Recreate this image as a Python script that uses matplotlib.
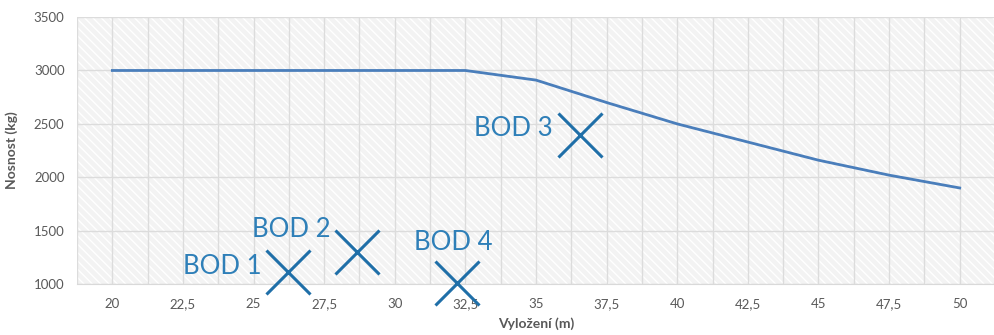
import numpy as np
import matplotlib.pyplot as plt
from matplotlib.patches import Rectangle

# data - vylozeni vs nosnost
vylozeni = [20, 22.5, 25, 27.5, 30, 32.5, 35, 37.5, 40, 42.5, 45, 47.5, 50]
nosnost = [3000, 3000, 3000, 3000, 3000, 3000, 2910, 2700, 2500, 2330, 2160, 2020, 1900]
tick_labels = ["20", "22,5", "25", "27,5", "30", "32,5", "35", "37,5", "40", "42,5", "45", "47,5", "50"]

# body (krizky) a popisky
bod_names = ["BOD 1", "BOD 2", "BOD 3", "BOD 4"]
bod_x = [26.22, 28.66, 36.55, 32.2]
bod_y = [1110, 1300, 2400, 1010]
label_x = [25.3, 27.74, 35.6, 33.47]
label_y = [1165, 1510, 2455, 1390]

plt.rcParams['font.family'] = ['Lato', 'DejaVu Sans']

fig = plt.figure(figsize=(9.95, 3.35), dpi=100)
ax = fig.add_axes([0.0774, 0.152, 0.9226, 0.797])

# pozadi s sraffovanim
ax.set_facecolor('#f3f3f3')
bg = Rectangle((0, 0), 1, 1, transform=ax.transAxes, facecolor='none',
               edgecolor='white', hatch='\\\\\\\\', linewidth=0, zorder=0)
ax.add_patch(bg)

ax.set_xlim(18.75, 51.25)
ax.set_ylim(1000, 3500)
ax.set_xticks(vylozeni)
ax.set_xticklabels(tick_labels)
ax.set_xticks(np.arange(18.75, 51.3, 1.25), minor=True)
ax.set_yticks(np.arange(1000, 3501, 500))
ax.grid(True, which='both', axis='x', color='#dcdcdc', linewidth=1, zorder=1)
ax.grid(True, which='major', axis='y', color='#dcdcdc', linewidth=1, zorder=1)
ax.set_axisbelow(True)

for s in ['top', 'right', 'left']:
    ax.spines[s].set_visible(False)
ax.spines['bottom'].set_color('#d9d9d9')

ax.tick_params(which='both', length=0, colors='#595959', labelsize=9.5)
ax.tick_params(axis='x', pad=10)
ax.tick_params(axis='y', pad=9)

ax.plot(vylozeni, nosnost, color='#4a7ebb', linewidth=2.0, zorder=3)

for name, bx, by, lx, ly in zip(bod_names, bod_x, bod_y, label_x, label_y):
    ax.plot(bx, by, marker='x', markersize=31, markeredgewidth=2.2,
            color='#1f6fa8', clip_on=False, zorder=4)
    ax.text(lx, ly, name, color='#2e7fb8', fontsize=18.5,
            ha='right', va='center', zorder=4)

ax.set_xlabel('Vyložení (m)', fontsize=10, fontweight='bold', color='#595959', labelpad=5)
ax.set_ylabel('Nosnost (kg)', fontsize=10, fontweight='bold', color='#595959', labelpad=11)

plt.savefig('out.png', dpi=100)
